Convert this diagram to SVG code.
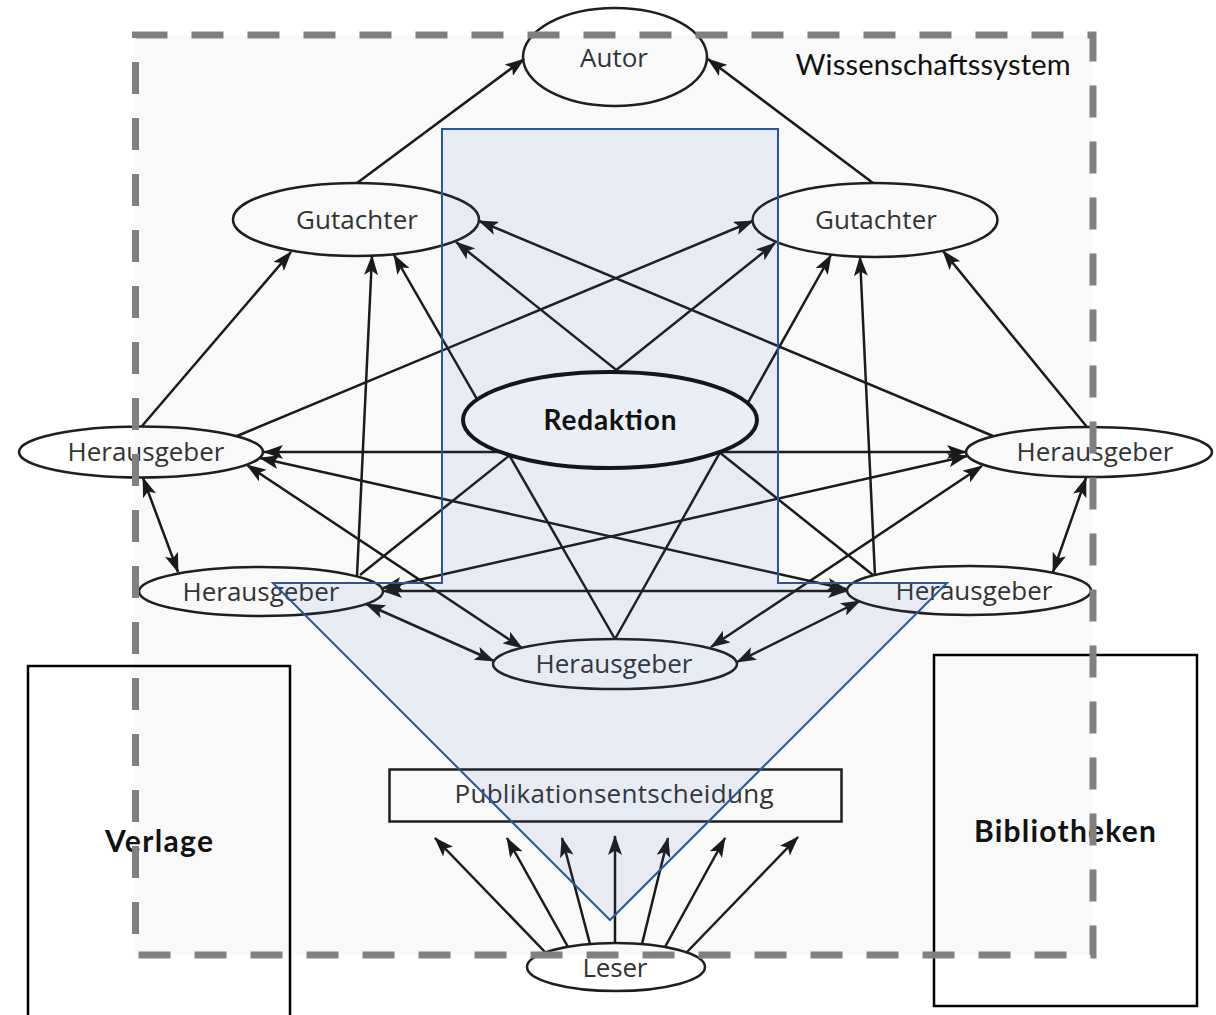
<svg xmlns="http://www.w3.org/2000/svg" width="1216" height="1015" viewBox="0 0 1216 1015">
<style>
.c line{stroke:#1a1a1a;stroke-width:2.5;fill:none;marker-end:url(#ah)}
.c line.d{marker-start:url(#ah)}
.n ellipse,.n rect{fill:none;stroke:#1e1e1e;stroke-width:2.5}
.n text{font-family:"Open Sans","Noto Sans",sans-serif;font-size:26px;fill:#333;text-anchor:middle}
.lbl{font-family:Lato,"Liberation Sans",sans-serif;fill:#111;text-anchor:middle}
.b{font-weight:bold}
</style>
<defs>
<marker id="ah" viewBox="0 0 20 14" markerWidth="20" markerHeight="14" refX="19" refY="7" orient="auto-start-reverse" markerUnits="userSpaceOnUse">
<path d="M0,0 L20,7 L0,14 L4.5,7 Z" fill="#1a1a1a"/>
</marker>
</defs>
<rect id="hintergrund" x="135" y="35" width="958" height="920" fill="#f9f9f9"/>
<g id="connectors" class="c">
<line x1="357" y1="183" x2="524" y2="59"/>
<line x1="873" y1="183" x2="708" y2="59"/>
<line x1="142" y1="426" x2="291" y2="252"/>
<line x1="357" y1="576" x2="372" y2="256"/>
<line x1="615" y1="639" x2="394" y2="255"/>
<line x1="873" y1="575" x2="456" y2="242"/>
<line x1="993" y1="436" x2="479" y2="221"/>
<line x1="237" y1="436" x2="753" y2="221"/>
<line x1="360" y1="575" x2="775" y2="243"/>
<line x1="615" y1="639" x2="831" y2="255"/>
<line x1="875" y1="576" x2="860" y2="257"/>
<line x1="1087" y1="427" x2="943" y2="251"/>
<line class="d" x1="264" y1="452" x2="966" y2="452"/>
<line class="d" x1="260" y1="458" x2="846" y2="589"/>
<line class="d" x1="247" y1="465" x2="522" y2="648"/>
<line class="d" x1="143" y1="478" x2="178" y2="572"/>
<line class="d" x1="967" y1="456" x2="383" y2="588"/>
<line class="d" x1="982" y1="466" x2="711" y2="647"/>
<line class="d" x1="1086" y1="478" x2="1053" y2="572"/>
<line class="d" x1="383" y1="591" x2="847" y2="591"/>
<line class="d" x1="366" y1="604" x2="494" y2="661"/>
<line class="d" x1="860" y1="601" x2="737" y2="662"/>
<line x1="545" y1="952" x2="435" y2="838"/>
<line x1="568" y1="947" x2="507" y2="838"/>
<line x1="590" y1="944" x2="562" y2="838"/>
<line x1="615" y1="943" x2="615" y2="836"/>
<line x1="642" y1="944" x2="668" y2="838"/>
<line x1="665" y1="947" x2="725" y2="838"/>
<line x1="687" y1="952" x2="798" y2="837"/>
</g>
<g id="autor" class="n"><ellipse cx="615" cy="57" rx="92" ry="49"/><text x="614" y="67" textLength="68">Autor</text></g>
<g id="gutachter-links" class="n"><ellipse cx="356" cy="219.5" rx="123" ry="36.5"/><text x="357" y="229" textLength="122">Gutachter</text></g>
<g id="gutachter-rechts" class="n"><ellipse cx="875" cy="220" rx="122.5" ry="37"/><text x="876" y="229" textLength="122">Gutachter</text></g>
<g id="herausgeber-links" class="n"><ellipse cx="141" cy="452" rx="122" ry="25.5"/><text x="146" y="461" textLength="157">Herausgeber</text></g>
<g id="herausgeber-rechts" class="n"><ellipse cx="1089" cy="452" rx="123" ry="25"/><text x="1095" y="461" textLength="157">Herausgeber</text></g>
<g id="herausgeber-links-unten" class="n"><ellipse cx="261" cy="591.5" rx="122" ry="24.5"/><text x="261" y="601" textLength="157">Herausgeber</text></g>
<g id="herausgeber-rechts-unten" class="n"><ellipse cx="969" cy="590.5" rx="122" ry="24.5"/><text x="974" y="600" textLength="157">Herausgeber</text></g>
<g id="herausgeber-mitte" class="n"><ellipse cx="615" cy="664" rx="122" ry="25"/><text x="614" y="673" textLength="157">Herausgeber</text></g>
<g id="publikationsentscheidung" class="n"><rect x="389.5" y="769.5" width="452" height="52"/><text x="614" y="803" textLength="319">Publikationsentscheidung</text></g>
<g id="leser" class="n"><ellipse cx="616" cy="967" rx="89" ry="24"/><text x="615" y="977" textLength="65">Leser</text></g>
<g id="redaktionsbereich"><polygon points="442,129 778,129 778,583 947,583 610,920 273,583 442,583" fill="#3a64c0" fill-opacity="0.09" stroke="#2f5597" stroke-width="2"/></g>
<g id="redaktion"><ellipse cx="610" cy="420" rx="147" ry="48" fill="#eaeef7" stroke="#15151f" stroke-width="4"/><text class="lbl b" x="610" y="430" font-size="28" textLength="133">Redaktion</text></g>
<g id="verlage"><rect x="28" y="666" width="262" height="360" fill="none" stroke="#000" stroke-width="2.5"/><text class="lbl b" x="159" y="852" font-size="30" textLength="108">Verlage</text></g>
<g id="bibliotheken"><rect x="934" y="655" width="263" height="351" fill="none" stroke="#000" stroke-width="2.5"/><text class="lbl b" x="1065" y="842" font-size="30" textLength="182">Bibliotheken</text></g>
<g id="wissenschaftssystem"><text class="lbl" x="933" y="75" font-size="29" textLength="275">Wissenschaftssystem</text>
<rect x="135.5" y="35" width="957.5" height="920" fill="none" stroke="#808080" stroke-width="7" stroke-dasharray="32 24"/></g>
</svg>
